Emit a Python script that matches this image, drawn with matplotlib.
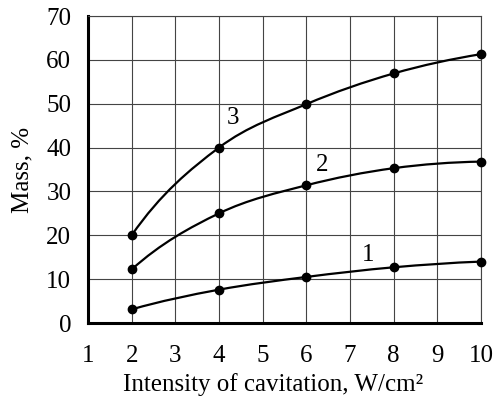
import matplotlib
matplotlib.use("Agg")
import matplotlib.pyplot as plt
from matplotlib.path import Path
from matplotlib.patches import PathPatch
import numpy as np

plt.rcParams['font.family'] = ['Liberation Serif', 'DejaVu Serif']

x_vals = [2, 4, 6, 8, 10]
curve1 = [3.1, 7.6, 10.5, 12.7, 14.0]
curve2 = [12.2, 25.0, 31.4, 35.3, 36.8]
curve3 = [20.0, 40.0, 49.9, 56.9, 61.3]
curve_labels = ["1", "2", "3"]
label_pos = [(7.41, 15.5), (6.36, 36.0), (4.32, 46.7)]

x_ticks = list(range(1, 11))
y_ticks = list(range(0, 71, 10))


def smooth_path(xs, ys):
    pts = np.column_stack([xs, ys]).astype(float)
    n = len(pts)
    # cubic extrapolation for phantom end points
    pre = 4 * pts[0] - 6 * pts[1] + 4 * pts[2] - pts[3]
    post = 4 * pts[-1] - 6 * pts[-2] + 4 * pts[-3] - pts[-4]
    ext = np.vstack([pre, pts, post])
    verts = [pts[0]]
    codes = [Path.MOVETO]
    for i in range(1, n):
        p0, p1, p2, p3 = ext[i - 1], ext[i], ext[i + 1], ext[i + 2]
        c1 = p1 + (p2 - p0) / 6.0
        c2 = p2 - (p3 - p1) / 6.0
        verts += [c1, c2, p2]
        codes += [Path.CURVE4] * 3
    return Path(verts, codes)


fig = plt.figure(figsize=(4.99, 3.97), dpi=100)
ax = fig.add_axes([88 / 499, 1 - 323 / 397, (481 - 88) / 499, (323 - 16) / 397])

ax.set_xlim(1, 10)
ax.set_ylim(0, 70)
ax.set_xticks(x_ticks)
ax.set_yticks(y_ticks)
ax.grid(True, color='#444444', linewidth=0.8)
ax.set_axisbelow(True)

for ys in (curve1, curve2, curve3):
    ax.add_patch(PathPatch(smooth_path(x_vals, ys), facecolor='none',
                           edgecolor='black', linewidth=1.6, zorder=3))
    ax.plot(x_vals, ys, 'o', color='black', markersize=6, zorder=4, clip_on=False)

for lab, (lx, ly) in zip(curve_labels, label_pos):
    ax.text(lx, ly, lab, fontsize=18, ha='center', va='center', zorder=5)

for s in ('top', 'right'):
    ax.spines[s].set_linewidth(0.8)
    ax.spines[s].set_color('#444444')
for s in ('left', 'bottom'):
    ax.spines[s].set_linewidth(2.2)
    ax.spines[s].set_color('black')

ax.tick_params(length=0, labelsize=18)
ax.tick_params(axis='x', pad=16)
ax.tick_params(axis='y', pad=12)
ax.set_xlabel('Intensity of cavitation, W/cm\u00b2', fontsize=18)
ax.xaxis.set_label_coords(0.472, -0.162)
ax.set_ylabel('Mass, %', fontsize=18, labelpad=9)

fig.savefig('out.png', dpi=100)
